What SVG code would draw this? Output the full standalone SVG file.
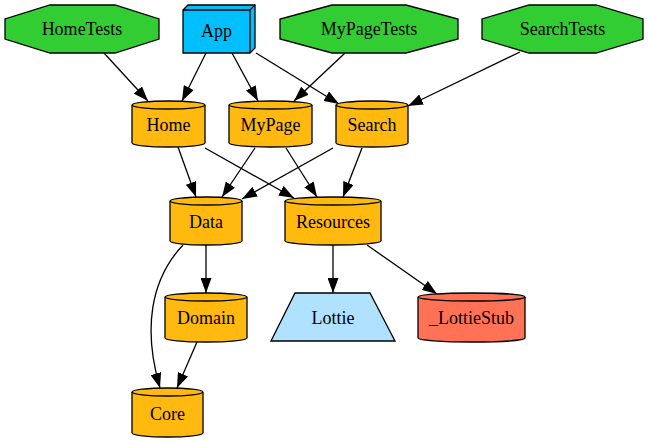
<svg xmlns="http://www.w3.org/2000/svg" width="648" height="443" viewBox="0 0 648 443">
<defs>
<marker id="arr" markerUnits="userSpaceOnUse" markerWidth="15" markerHeight="11" refX="15" refY="5.5" orient="auto">
<path d="M0,0 L15,5.5 L0,11 Z" fill="#000" stroke="none"/>
</marker>
<style>
.n{stroke:#000;stroke-width:1.3;}
.lid{fill:none;stroke:#000;stroke-width:1.3;}
.t{font-family:"Liberation Serif","Times New Roman",serif;font-size:18px;text-anchor:middle;fill:#000;}
.test{fill:#32CD32;}
.cyl{fill:#FFB90F;}
.e{fill:none;stroke:#000;stroke-width:1.3;marker-end:url(#arr);}
</style>
</defs>
<rect width="648" height="443" fill="#fff"/>
<g id="edges">
<path class="e" d="M104,53 L148,101"/>
<path class="e" d="M206,53 L182,101"/>
<path class="e" d="M232,53 L258,101"/>
<path class="e" d="M256,53 L339,104"/>
<path class="e" d="M345,53 L294,101"/>
<path class="e" d="M520,52 L408,106"/>
<path class="e" d="M178,147 L196,197"/>
<path class="e" d="M205,148 L294,198"/>
<path class="e" d="M255,148 L222,197"/>
<path class="e" d="M286,148 L317,197"/>
<path class="e" d="M333,148 L242,199"/>
<path class="e" d="M362,148 L343,197"/>
<path class="e" d="M206,245 L206,293"/>
<path class="e" d="M183,245 C150,280 143,330 160,388"/>
<path class="e" d="M197,342 L177,388"/>
<path class="e" d="M333,245 L333,293"/>
<path class="e" d="M367,245 L437,294"/>
</g>
<g id="HomeTests">
<polygon class="n test" points="50,5 115,5 159,19 159,39 115,53 50,53 5,39 5,19"/>
<text class="t" x="82" y="35">HomeTests</text>
</g>
<g id="App">
<polygon class="n" fill="#00BFFF" points="183,10 188,5 255,5 255,48 250,53 183,53"/>
<path class="lid" d="M183,10 L250,10 L250,53 M250,10 L255,5"/>
<text class="t" x="216.5" y="37">App</text>
</g>
<g id="MyPageTests">
<polygon class="n test" points="332,5 406,5 458,19 458,39 406,53 332,53 280,39 280,19"/>
<text class="t" x="369" y="35">MyPageTests</text>
</g>
<g id="SearchTests">
<polygon class="n test" points="529,5 596,5 643,19 643,39 596,53 529,53 482,39 482,19"/>
<text class="t" x="562.5" y="35">SearchTests</text>
</g>
<g id="Home">
<path class="n cyl" d="M132,105 A36.5,4 0 0 1 205,105 L205,143 A36.5,4 0 0 1 132,143 Z"/>
<path class="lid" d="M132,105 A36.5,4 0 0 0 205,105"/>
<text class="t" x="168.5" y="131">Home</text>
</g>
<g id="MyPage">
<path class="n cyl" d="M229,105 A41.5,4 0 0 1 312,105 L312,143 A41.5,4 0 0 1 229,143 Z"/>
<path class="lid" d="M229,105 A41.5,4 0 0 0 312,105"/>
<text class="t" x="270.5" y="131">MyPage</text>
</g>
<g id="Search">
<path class="n cyl" d="M336,105 A36,4 0 0 1 408,105 L408,143 A36,4 0 0 1 336,143 Z"/>
<path class="lid" d="M336,105 A36,4 0 0 0 408,105"/>
<text class="t" x="372" y="131">Search</text>
</g>
<g id="Data">
<path class="n cyl" d="M170,201 A36,4 0 0 1 242,201 L242,241 A36,4 0 0 1 170,241 Z"/>
<path class="lid" d="M170,201 A36,4 0 0 0 242,201"/>
<text class="t" x="206" y="228">Data</text>
</g>
<g id="Resources">
<path class="n cyl" d="M285,201 A48,4 0 0 1 381,201 L381,241 A48,4 0 0 1 285,241 Z"/>
<path class="lid" d="M285,201 A48,4 0 0 0 381,201"/>
<text class="t" x="333" y="228">Resources</text>
</g>
<g id="Domain">
<path class="n cyl" d="M165,297 A41,4 0 0 1 247,297 L247,338 A41,4 0 0 1 165,338 Z"/>
<path class="lid" d="M165,297 A41,4 0 0 0 247,297"/>
<text class="t" x="206" y="324">Domain</text>
</g>
<g id="Lottie">
<polygon class="n" fill="#B0E2FF" points="271,341 295,293 370,293 395,341"/>
<text class="t" x="333" y="324">Lottie</text>
</g>
<g id="_LottieStub">
<path class="n" fill="#FF7256" d="M418,297 A53.5,4 0 0 1 525,297 L525,338 A53.5,4 0 0 1 418,338 Z"/>
<path class="lid" d="M418,297 A53.5,4 0 0 0 525,297"/>
<text class="t" x="471.5" y="324">_LottieStub</text>
</g>
<g id="Core">
<path class="n cyl" d="M132,392 A35.5,4 0 0 1 203,392 L203,433 A35.5,4 0 0 1 132,433 Z"/>
<path class="lid" d="M132,392 A35.5,4 0 0 0 203,392"/>
<text class="t" x="167.5" y="420">Core</text>
</g>
</svg>
